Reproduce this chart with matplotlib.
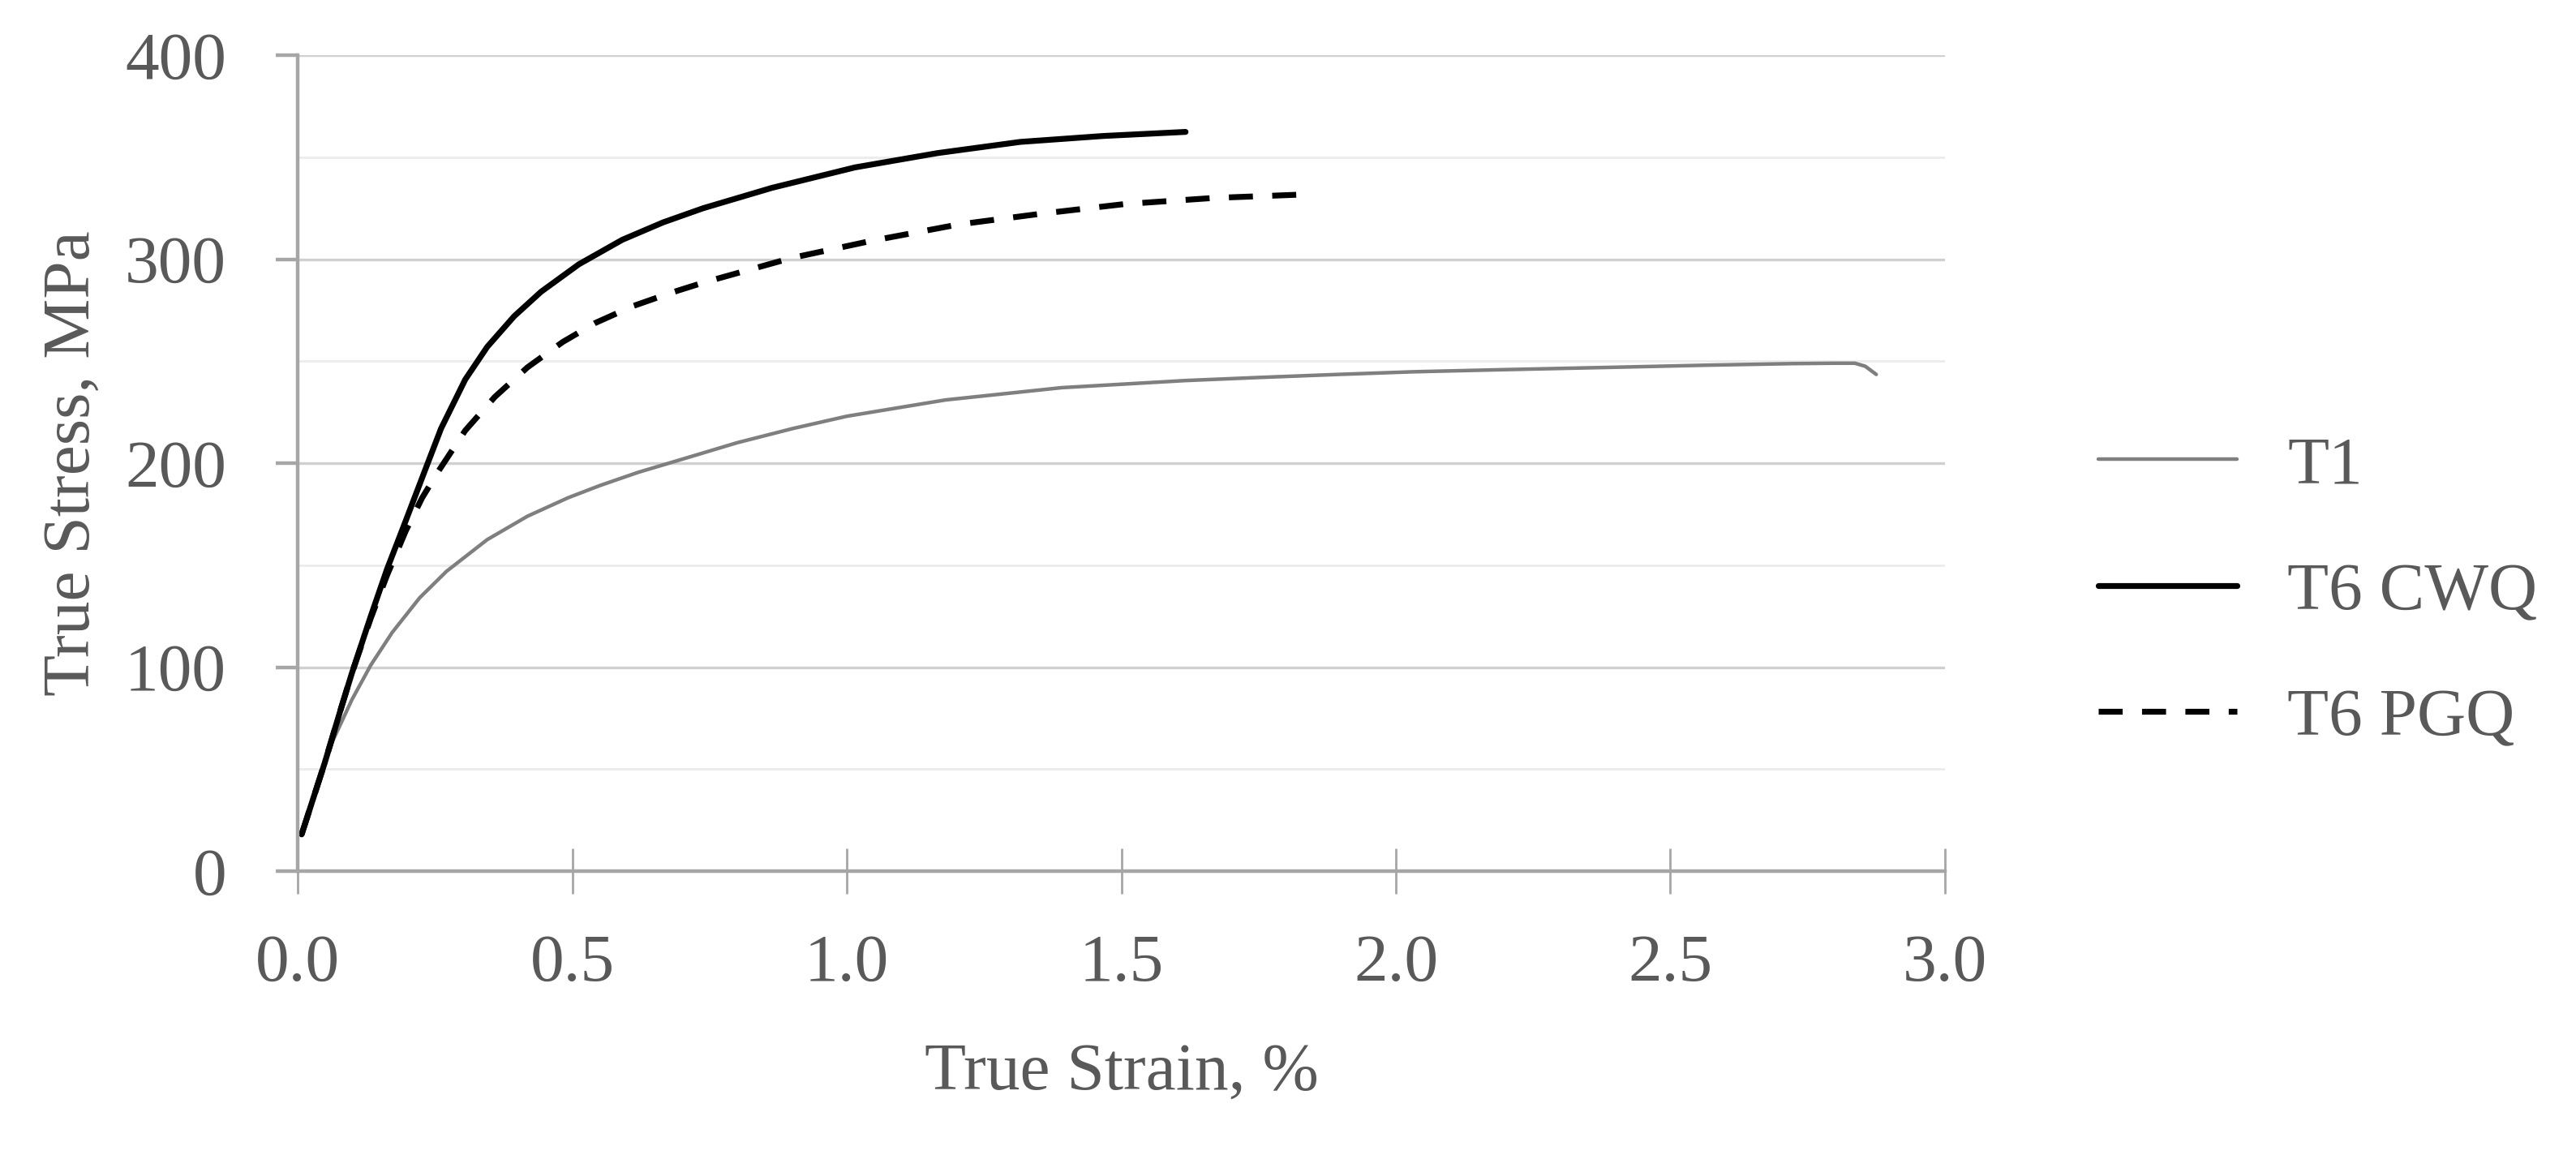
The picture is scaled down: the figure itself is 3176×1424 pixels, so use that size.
import numpy as np
import matplotlib
matplotlib.use("Agg")
import matplotlib.pyplot as plt
from matplotlib.ticker import MultipleLocator

# values (strain in %, stress in MPa)
t1_strain = [0.007, 0.03, 0.049, 0.064, 0.0985, 0.133, 0.172, 0.222, 0.271, 0.345,
             0.4185, 0.492, 0.55, 0.62, 0.7134, 0.80, 0.902, 1.0, 1.18,
             1.391, 1.617, 1.75, 1.895, 2.032, 2.19, 2.396, 2.56, 2.72, 2.80,
             2.836, 2.855, 2.875]
t1_stress = [18, 38, 53, 64, 84, 101, 117, 134, 147, 162.5,
             174, 183, 189, 195.5, 203, 210, 217, 223, 231,
             237, 240.5, 242, 243.5, 244.8, 245.8, 247, 248, 248.8, 249,
             249, 247.5, 243.5]

cwq_strain = [0.007, 0.049, 0.079, 0.0985, 0.133, 0.1625, 0.197, 0.231, 0.261, 0.305,
              0.345, 0.394, 0.443, 0.512, 0.591, 0.665, 0.7385, 0.864, 1.015, 1.165,
              1.316, 1.467, 1.617]
cwq_stress = [18, 53, 80, 97, 125, 148, 172, 196, 217, 241,
              257, 272, 284, 297.5, 309.5, 318, 325, 335, 345, 352,
              357.5, 360.4, 362.4]

pgq_strain = [0.007, 0.049, 0.079, 0.0985, 0.133, 0.1625, 0.197, 0.2265, 0.256, 0.305,
              0.359, 0.4185, 0.4825, 0.5416, 0.6105, 0.6795, 0.7385, 0.898, 1.045, 1.203,
              1.354, 1.505, 1.667, 1.821]
pgq_stress = [18, 53, 80, 97, 124, 145, 167, 183, 196, 216,
              232.5, 247, 259.4, 268.7, 277, 283.5, 288.5, 300.5, 309, 317,
              322.3, 327, 330, 331.6]

labels = ["T1", "T6 CWQ", "T6 PGQ"]

text_col = "#595959"
plt.rcParams['font.family'] = ['Liberation Serif', 'DejaVu Serif']
plt.rcParams['font.size'] = 30

fig = plt.figure(figsize=(15.88, 7.12), dpi=200)
ax = fig.add_axes([0.1156, 0.2458, 0.7550 - 0.1156, 0.9522 - 0.2458])

ax.plot(t1_strain, t1_stress, color="#7f7f7f", lw=1.6, label=labels[0],
        solid_joinstyle='round', solid_capstyle='round')
ax.plot(cwq_strain, cwq_stress, color="black", lw=2.6, label=labels[1],
        solid_joinstyle='round', solid_capstyle='round')
pgq, = ax.plot(pgq_strain, pgq_stress, color="black", lw=2.6, label=labels[2])
pgq.set_dashes([4.1, 3.3])

ax.set_xlim(0, 3.0)
ax.set_ylim(0, 400)
ax.xaxis.set_major_locator(MultipleLocator(0.5))
ax.yaxis.set_major_locator(MultipleLocator(100))
ax.yaxis.set_minor_locator(MultipleLocator(50))
ax.xaxis.set_major_formatter(matplotlib.ticker.FormatStrFormatter('%.1f'))

ax.grid(axis='y', which='major', color='#d0d0d0', lw=1.2)
ax.grid(axis='y', which='minor', color='#ebebeb', lw=1.0)
ax.set_axisbelow(True)

for s in ['top', 'right']:
    ax.spines[s].set_visible(False)
for s in ['left', 'bottom']:
    ax.spines[s].set_color('#a6a6a6')
    ax.spines[s].set_linewidth(1.6)

ax.tick_params(axis='y', which='major', direction='out', length=9.7, width=1.6,
               color='#a6a6a6', pad=22, labelcolor=text_col)
ax.tick_params(axis='y', which='minor', length=0)
ax.tick_params(axis='x', which='major', direction='inout', length=20, width=1.0,
               color='#a6a6a6', pad=18, labelcolor=text_col)

ax.set_xlabel("True Strain, %", color=text_col)
ax.set_ylabel("True Stress, MPa", color=text_col)
ax.xaxis.set_label_coords(0.5, -0.21)
ax.xaxis.label.set_va('top')
ax.yaxis.set_label_coords(-0.118, 0.5)

leg = fig.legend(loc='center left', bbox_to_anchor=(0.8145, 0.4867), frameon=False,
                 handlelength=2.05, handletextpad=0.75, labelspacing=0.95,
                 borderpad=0, borderaxespad=0)
for t in leg.get_texts():
    t.set_color(text_col)

fig.savefig("out.png", dpi=200)
plt.close()
